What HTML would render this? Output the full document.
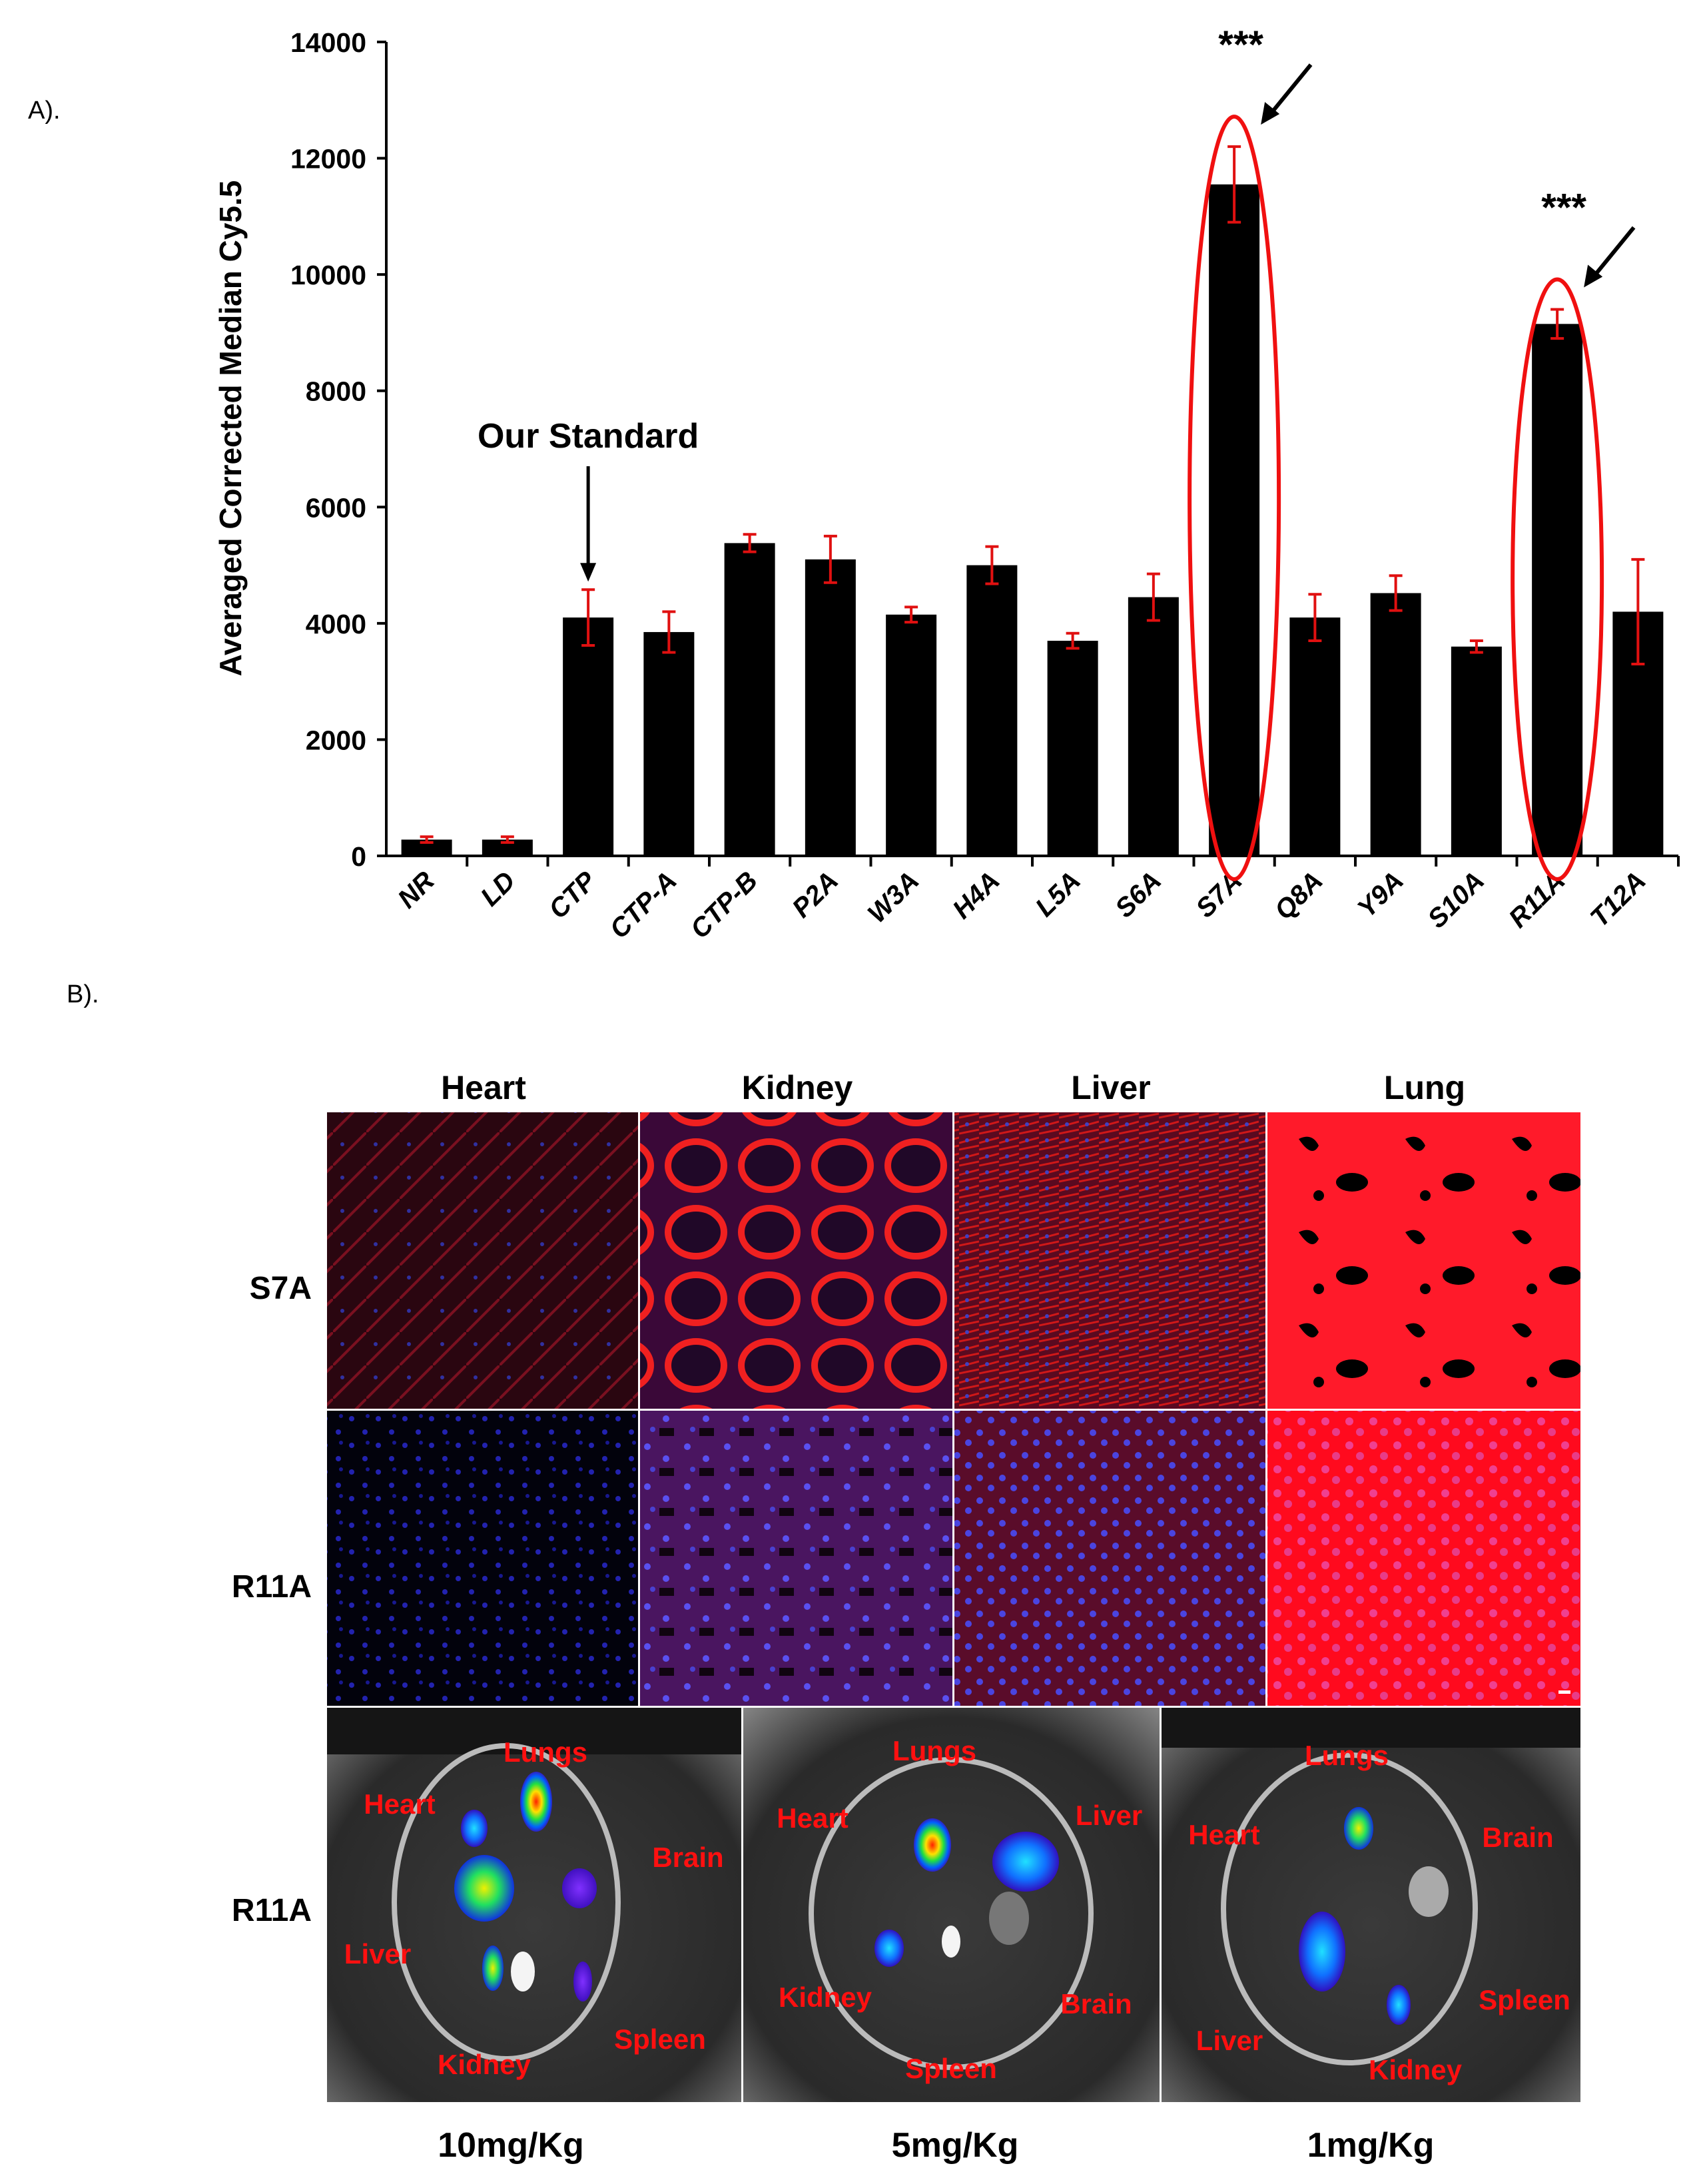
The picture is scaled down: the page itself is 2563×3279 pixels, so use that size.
<!DOCTYPE html>
<html><head><meta charset="utf-8"><style>
html,body{margin:0;padding:0;background:#fff;}
svg{display:block;font-family:"Liberation Sans",sans-serif;}
</style></head><body>
<svg id="fig" width="2563" height="3279" viewBox="0 0 2563 3279">
<defs>
<pattern id="cellsBlue" width="40" height="40" patternUnits="userSpaceOnUse"><circle cx="8" cy="10" r="4" fill="#2a2ad8"/><circle cx="28" cy="30" r="4" fill="#2a2ad8"/><circle cx="32" cy="6" r="3" fill="#1d1db0"/></pattern>
<pattern id="kidneyNet" width="110" height="100" patternUnits="userSpaceOnUse"><rect width="110" height="100" fill="#3a0838"/><ellipse cx="55" cy="50" rx="42" ry="36" fill="#200828" stroke="#f02020" stroke-width="10"/></pattern>
<pattern id="liverNet" width="30" height="24" patternUnits="userSpaceOnUse"><rect width="30" height="24" fill="#5a0a20"/><path d="M0 12 L30 4 M0 22 L30 16" stroke="#d01818" stroke-width="3"/><circle cx="12" cy="8" r="3" fill="#4040c0"/></pattern>
<pattern id="lungS" width="160" height="140" patternUnits="userSpaceOnUse"><rect width="160" height="140" fill="#ff1a2a"/><path d="M30 30 q20 -10 30 10 q-10 20 -30 -10z" fill="#000"/><ellipse cx="110" cy="95" rx="24" ry="14" fill="#000"/><circle cx="60" cy="115" r="8" fill="#000"/></pattern>
<pattern id="lungR" width="36" height="36" patternUnits="userSpaceOnUse"><rect width="36" height="36" fill="#ff0a1e"/><circle cx="10" cy="10" r="6" fill="#f04090"/><circle cx="26" cy="26" r="6" fill="#e83c88"/></pattern>
<pattern id="kidneyR" width="60" height="60" patternUnits="userSpaceOnUse"><rect width="60" height="60" fill="#4a1560"/><circle cx="12" cy="12" r="5" fill="#5a50f0"/><circle cx="40" cy="30" r="5" fill="#5a50f0"/><circle cx="20" cy="46" r="4" fill="#4a40d0"/><rect x="30" y="44" width="22" height="12" fill="#100410"/></pattern>
<pattern id="liverR" width="34" height="34" patternUnits="userSpaceOnUse"><rect width="34" height="34" fill="#5a0c2a"/><circle cx="9" cy="9" r="5" fill="#4a44e0"/><circle cx="26" cy="24" r="5" fill="#4a44e0"/></pattern>
<pattern id="heartS" width="50" height="50" patternUnits="userSpaceOnUse"><rect width="50" height="50" fill="#2a0610"/><path d="M0 50 L50 0" stroke="#7a1020" stroke-width="4"/><circle cx="14" cy="18" r="3" fill="#3030a0"/></pattern>
<radialGradient id="photoBg" cx="0.5" cy="0.55" r="0.75"><stop offset="0" stop-color="#3a3a3a"/><stop offset="0.7" stop-color="#2a2a2a"/><stop offset="1" stop-color="#888"/></radialGradient>
<radialGradient id="hot" cx="0.5" cy="0.5" r="0.5"><stop offset="0" stop-color="#ff2000"/><stop offset="0.35" stop-color="#ffe000"/><stop offset="0.6" stop-color="#20e040"/><stop offset="0.85" stop-color="#0060ff"/><stop offset="1" stop-color="#3020c0"/></radialGradient>
<radialGradient id="warm" cx="0.5" cy="0.5" r="0.5"><stop offset="0" stop-color="#f0f000"/><stop offset="0.5" stop-color="#20e060"/><stop offset="1" stop-color="#1030e0"/></radialGradient>
<radialGradient id="cool" cx="0.5" cy="0.5" r="0.5"><stop offset="0" stop-color="#20e0ff"/><stop offset="0.6" stop-color="#1070ff"/><stop offset="1" stop-color="#3010c0"/></radialGradient>
<radialGradient id="purp" cx="0.5" cy="0.5" r="0.5"><stop offset="0" stop-color="#8030ff"/><stop offset="1" stop-color="#4010c0"/></radialGradient>
</defs>

<text x="42" y="178" font-size="38">A).</text>
<g id="chart"></g>

<text x="100" y="1505" font-size="38">B).</text>

<g font-weight="bold" font-size="50" text-anchor="middle">
<text x="726" y="1650">Heart</text>
<text x="1197" y="1650">Kidney</text>
<text x="1668" y="1650">Liver</text>
<text x="2139" y="1650">Lung</text>
</g>
<g font-weight="bold" font-size="48" text-anchor="end">
<text x="468" y="1950">S7A</text>
<text x="468" y="2398">R11A</text>
<text x="468" y="2884">R11A</text>
</g>

<g>
<rect x="491" y="1670" width="467" height="445" fill="url(#heartS)"/>
<rect x="961" y="1670" width="469" height="445" fill="url(#kidneyNet)"/>
<rect x="1433" y="1670" width="467" height="445" fill="url(#liverNet)"/>
<rect x="1903" y="1670" width="470" height="445" fill="url(#lungS)"/>
<rect x="491" y="2118" width="467" height="443" fill="#02020c"/>
<rect x="491" y="2118" width="467" height="443" fill="url(#cellsBlue)" opacity="0.8"/>
<rect x="961" y="2118" width="469" height="443" fill="url(#kidneyR)"/>
<rect x="1433" y="2118" width="467" height="443" fill="url(#liverR)"/>
<rect x="1903" y="2118" width="470" height="443" fill="url(#lungR)"/>
<rect x="2340" y="2538" width="18" height="5" fill="#fff"/>
</g>

<g>
<g>
<rect x="491" y="2564" width="622" height="592" fill="url(#photoBg)"/>
<rect x="491" y="2564" width="622" height="70" fill="#151515"/>
<ellipse cx="760" cy="2856" rx="168" ry="235" fill="none" stroke="#bbb" stroke-width="8"/>
<ellipse cx="805" cy="2705" rx="24" ry="45" fill="url(#hot)"/>
<ellipse cx="712" cy="2745" rx="20" ry="28" fill="url(#cool)"/>
<ellipse cx="727" cy="2835" rx="45" ry="50" fill="url(#warm)"/>
<ellipse cx="870" cy="2835" rx="26" ry="30" fill="url(#purp)"/>
<ellipse cx="740" cy="2955" rx="16" ry="34" fill="url(#warm)"/>
<ellipse cx="785" cy="2960" rx="18" ry="30" fill="#f4f4f4"/>
<ellipse cx="875" cy="2975" rx="14" ry="30" fill="url(#purp)"/>
</g>
<g>
<rect x="1116" y="2564" width="625" height="592" fill="url(#photoBg)"/>
<ellipse cx="1428" cy="2873" rx="210" ry="231" fill="none" stroke="#bbb" stroke-width="8"/>
<ellipse cx="1400" cy="2770" rx="28" ry="40" fill="url(#hot)"/>
<ellipse cx="1540" cy="2795" rx="50" ry="45" fill="url(#cool)"/>
<ellipse cx="1335" cy="2925" rx="22" ry="28" fill="url(#cool)"/>
<ellipse cx="1428" cy="2915" rx="14" ry="24" fill="#f4f4f4"/>
<ellipse cx="1515" cy="2880" rx="30" ry="40" fill="#777"/>
</g>
<g>
<rect x="1744" y="2564" width="629" height="592" fill="url(#photoBg)"/>
<rect x="1744" y="2564" width="629" height="60" fill="#151515"/>
<ellipse cx="2026" cy="2866" rx="189" ry="231" fill="none" stroke="#bbb" stroke-width="8"/>
<ellipse cx="2040" cy="2745" rx="22" ry="32" fill="url(#warm)"/>
<ellipse cx="1985" cy="2930" rx="35" ry="60" fill="url(#cool)"/>
<ellipse cx="2100" cy="3010" rx="18" ry="30" fill="url(#cool)"/>
<ellipse cx="2145" cy="2840" rx="30" ry="38" fill="#aaa"/>
</g>
<g fill="#ff1010" font-weight="bold" font-size="42" text-anchor="middle">
<text x="819" y="2645">Lungs</text><text x="600" y="2723">Heart</text><text x="1033" y="2803">Brain</text><text x="567" y="2948">Liver</text><text x="991" y="3076">Spleen</text><text x="727" y="3114">Kidney</text>
<text x="1403" y="2643">Lungs</text><text x="1220" y="2744">Heart</text><text x="1665" y="2740">Liver</text><text x="1239" y="3013">Kidney</text><text x="1646" y="3023">Brain</text><text x="1428" y="3120">Spleen</text>
<text x="2022" y="2650">Lungs</text><text x="1838" y="2769">Heart</text><text x="2279" y="2773">Brain</text><text x="2289" y="3017">Spleen</text><text x="1846" y="3078">Liver</text><text x="2125" y="3122">Kidney</text>
</g>
</g>
<g font-weight="bold" font-size="52" text-anchor="middle">
<text x="767" y="3238">10mg/Kg</text>
<text x="1434" y="3238">5mg/Kg</text>
<text x="2058" y="3238">1mg/Kg</text>
</g>
</svg>
<script>
const categories=["NR","LD","CTP","CTP-A","CTP-B","P2A","W3A","H4A","L5A","S6A","S7A","Q8A","Y9A","S10A","R11A","T12A"];
const values=[280,280,4100,3850,5380,5100,4150,5000,3700,4450,11550,4100,4520,3600,9150,4200];
const errors=[50,50,480,350,150,400,130,320,130,400,650,400,300,100,250,900];
const yTicks=[0,2000,4000,6000,8000,10000,12000,14000];
const highlighted=["S7A","R11A"];
const NS="http://www.w3.org/2000/svg";
const g=document.getElementById('chart');
const X0=580,X1=2520,Y0=1285,Y1=63,YMAX=14000;
const step=(X1-X0)/categories.length;
function xc(i){return X0+step*(i+0.5);}
function y(v){return Y0-(v/YMAX)*(Y0-Y1);}
function mk(t,a,p){const e=document.createElementNS(NS,t);for(const k in a)e.setAttribute(k,a[k]);(p||g).appendChild(e);return e;}
let ax=mk('line',{x1:X0,y1:Y1,x2:X0,y2:Y0,stroke:'#000','stroke-width':4});


let bx=mk('line',{x1:X0,y1:Y0,x2:X1,y2:Y0,stroke:'#000','stroke-width':4});


yTicks.forEach(t=>{
  mk('line',{x1:X0-14,x2:X0,y1:y(t),y2:y(t),stroke:'#000','stroke-width':4});
  const tx=mk('text',{x:X0-30,y:y(t)+15,'text-anchor':'end','font-size':41,'font-weight':'bold'});
  tx.textContent=t;
  
  
});
categories.forEach((c,i)=>{
  mk('line',{x1:X0+step*(i+1),x2:X0+step*(i+1),y1:Y0,y2:Y0+16,stroke:'#000','stroke-width':4});
  const b=mk('rect',{x:xc(i)-38,y:y(values[i]),width:76,height:Y0-y(values[i]),fill:'#000'});
  
  
  const e1=y(values[i]+errors[i]),e2=y(values[i]-errors[i]);
  const eb=mk('path',{d:`M${xc(i)} ${e1}V${e2}M${xc(i)-10} ${e1}H${xc(i)+10}M${xc(i)-10} ${e2}H${xc(i)+10}`,stroke:'#e01010','stroke-width':4,fill:'none'});
  
  
  const lx=xc(i)+14,ly=Y0+40;
  const t=mk('text',{x:lx,y:ly,'text-anchor':'end','font-size':40,'font-weight':'bold','font-style':'italic',transform:`rotate(-45 ${lx} ${ly})`});
  t.textContent=c;
  
  
  if(highlighted.includes(c)){
    const top=y(values[i]+errors[i])-45;
    const el=mk('ellipse',{cx:xc(i),cy:(top+Y0+35)/2,rx:67,ry:(Y0+35-top)/2,fill:'none',stroke:'#f01010','stroke-width':6});
    
    
    const ax2=xc(i)+40,ay=top+12;
    const ar=mk('path',{d:`M${ax2+75} ${ay-90}L${ax2+8} ${ay-8}`,stroke:'#000','stroke-width':6});
    
    
    mk('path',{d:`M${ax2} ${ay} l6 -34 l22 18z`,fill:'#000'});
    const st=mk('text',{x:xc(i)+10,y:ay-100,'text-anchor':'middle','font-size':58,'font-weight':'bold'});
    st.textContent='***';
    
    
  }
});
const yt=mk('text',{x:0,y:0,'text-anchor':'middle','font-size':46,'font-weight':'bold',transform:`translate(362 643) rotate(-90)`});
yt.textContent='Averaged Corrected Median Cy5.5';


const ci=categories.indexOf('CTP');
const os=mk('text',{x:xc(ci),y:672,'text-anchor':'middle','font-size':52,'font-weight':'bold'});
os.textContent='Our Standard';


const oa=mk('path',{d:`M${xc(ci)} 700V${y(values[ci]+errors[ci])-35}`,stroke:'#000','stroke-width':5});


mk('path',{d:`M${xc(ci)-12} ${y(values[ci]+errors[ci])-40}h24l-12 28z`,fill:'#000'});
</script>
</body></html>
